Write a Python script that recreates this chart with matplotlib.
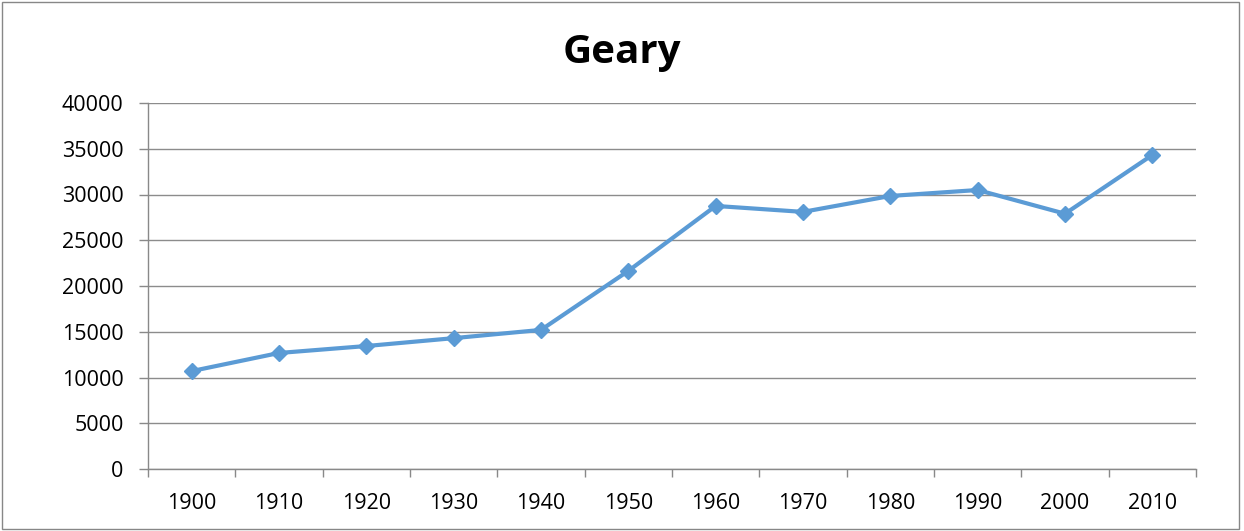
import matplotlib.pyplot as plt
from matplotlib.patches import Rectangle

# 데이터
years = ['1900', '1910', '1920', '1930', '1940', '1950',
         '1960', '1970', '1980', '1990', '2000', '2010']
population = [10700, 12680, 13440, 14300, 15200, 21650,
              28750, 28100, 29840, 30490, 27900, 34320]
yticks = [0, 5000, 10000, 15000, 20000, 25000, 30000, 35000, 40000]

plt.rcParams['font.family'] = ['Open Sans', 'DejaVu Sans']

fig = plt.figure(figsize=(12.44, 5.31), dpi=100)
ax = fig.add_axes([148 / 1244, 1 - 469 / 531, 1048 / 1244, 366 / 531])

x = list(range(len(years)))
ax.plot(x, population, color='#5B9BD5', linewidth=3, marker='D', markersize=8.5,
        solid_capstyle='round', zorder=3)

ax.set_xlim(-0.5, len(years) - 0.5)
ax.set_ylim(0, 40000)
ax.set_yticks(yticks)
ax.set_yticklabels([str(v) for v in yticks], fontsize=15.5)
ax.set_xticks(x)
ax.set_xticklabels(years, fontsize=15.5)
ax.set_xticks([i - 0.5 for i in range(len(years) + 1)], minor=True)
ax.tick_params(axis='x', which='major', length=0, pad=17)
ax.tick_params(axis='x', which='minor', length=6, color='#898989', width=1)
ax.tick_params(axis='y', length=6.5, color='#898989', width=1, pad=11)

ax.grid(axis='y', color='#8c8c8c', linewidth=1)
ax.set_axisbelow(True)
for s in ['top', 'right']:
    ax.spines[s].set_visible(False)
for s in ['left', 'bottom']:
    ax.spines[s].set_color('#898989')
    ax.spines[s].set_linewidth(1)

fig.text(0.5, 1 - 53 / 531, 'Geary', ha='center', va='center',
         fontsize=29, fontweight='bold')

# 바깥 테두리
fig.patches.append(Rectangle((0.002, 0.003), 0.994, 0.994, transform=fig.transFigure,
                             fill=False, edgecolor='#878787', linewidth=1))

fig.savefig('out.png', dpi=100)
